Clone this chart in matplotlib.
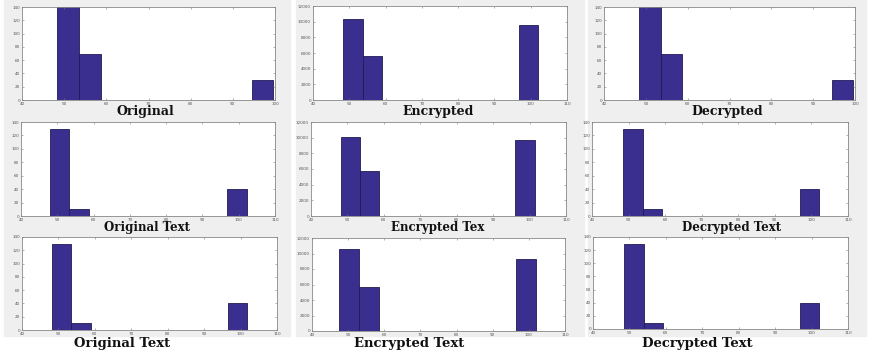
import numpy as np
import matplotlib.pyplot as plt
from matplotlib.patches import Rectangle

# histogram data (10 bins per panel: first and last bin edge, counts)
titulos = ["Original", "Encrypted", "Decrypted",
           "Original Text", "Encrypted Tex", "Decrypted Text",
           "Original Text", "Encrypted Text", "Decrypted Text"]
bin_lo = [48.4, 48.4, 48.4, 47.9, 48.1, 48.5, 48.2, 47.6, 48.6]
bin_hi = [99.6, 102.0, 99.6, 102.3, 101.4, 102.2, 101.8, 102.0, 102.1]
conteos = [
    [150, 70, 0, 0, 0, 0, 0, 0, 0, 30],
    [10400, 5650, 0, 0, 0, 0, 0, 0, 0, 9550],
    [150, 70, 0, 0, 0, 0, 0, 0, 0, 30],
    [130, 10, 0, 0, 0, 0, 0, 0, 0, 40],
    [10050, 5750, 0, 0, 0, 0, 0, 0, 0, 9650],
    [130, 10, 0, 0, 0, 0, 0, 0, 0, 40],
    [130, 10, 0, 0, 0, 0, 0, 0, 0, 40],
    [10600, 5700, 0, 0, 0, 0, 0, 0, 0, 9350],
    [130, 9, 0, 0, 0, 0, 0, 0, 0, 39],
]
x_max = [100, 110, 100, 110, 110, 110, 110, 110, 110]
y_max = [140, 12000, 140, 140, 12000, 140, 140, 12000, 140]

W, H = 869, 355
fig = plt.figure(figsize=(W / 100, H / 100), dpi=100)
fig.patch.set_facecolor('white')

# axes boxes in pixels: left, right, top, bottom
cajas = [
    (22, 275, 7, 100), (313, 567, 6, 100), (604, 855, 7, 100),
    (21, 275, 122, 216), (311, 566, 122, 216), (592, 848, 122, 216),
    (22, 277, 237, 330), (312, 565, 238, 331), (593, 848, 237, 329),
]
# grey panel backgrounds: left, right, top, bottom
fondos = [
    (4, 290, 0, 120), (296, 584, 0, 120), (588, 866, 0, 120),
    (4, 290, 120, 234), (296, 584, 120, 234), (588, 866, 120, 234),
    (4, 290, 234, 336), (296, 584, 234, 336), (588, 866, 234, 336),
]
# title centre x, y (pixels) and font size
pos_titulo = [
    (145, 112, 9), (438, 112, 9), (727, 112, 9),
    (147, 227, 8.5), (438, 227, 8.5), (732, 227, 8.5),
    (122, 344, 9.5), (409, 344, 9.5), (697, 344, 9.5),
]

for (l, r, t, b) in fondos:
    fig.patches.append(Rectangle((l / W, 1 - b / H), (r - l) / W, (b - t) / H,
                                 transform=fig.transFigure, color='#efefef', zorder=-5))

for i in range(9):
    l, r, t, b = cajas[i]
    ax = fig.add_axes([l / W, 1 - b / H, (r - l) / W, (b - t) / H], zorder=2)
    bordes = np.linspace(bin_lo[i], bin_hi[i], 11)
    ancho = bordes[1] - bordes[0]
    ax.bar(bordes[:-1], conteos[i], width=ancho, align='edge',
           color='#3a2e8e', edgecolor='#221a55', linewidth=0.6)
    ax.set_xlim(40, x_max[i])
    ax.set_ylim(0, y_max[i])
    ax.set_xticks(np.arange(40, x_max[i] + 1, 10))
    ax.set_yticks(np.linspace(0, y_max[i], 8 if y_max[i] == 140 else 7))
    ax.tick_params(direction='in', length=1.5, width=0.4, labelsize=3,
                   labelcolor='#555555', color='#777777', pad=1.5,
                   top=True, right=True)
    for s in ax.spines.values():
        s.set_color('#888888')
        s.set_linewidth(0.6)
    cx, cy, fs = pos_titulo[i]
    fig.text(cx / W, 1 - cy / H, titulos[i], ha='center', va='center', zorder=3,
             fontsize=fs, fontweight='bold', family='DejaVu Serif', color='#111111')

plt.savefig('out.png', dpi=100)
